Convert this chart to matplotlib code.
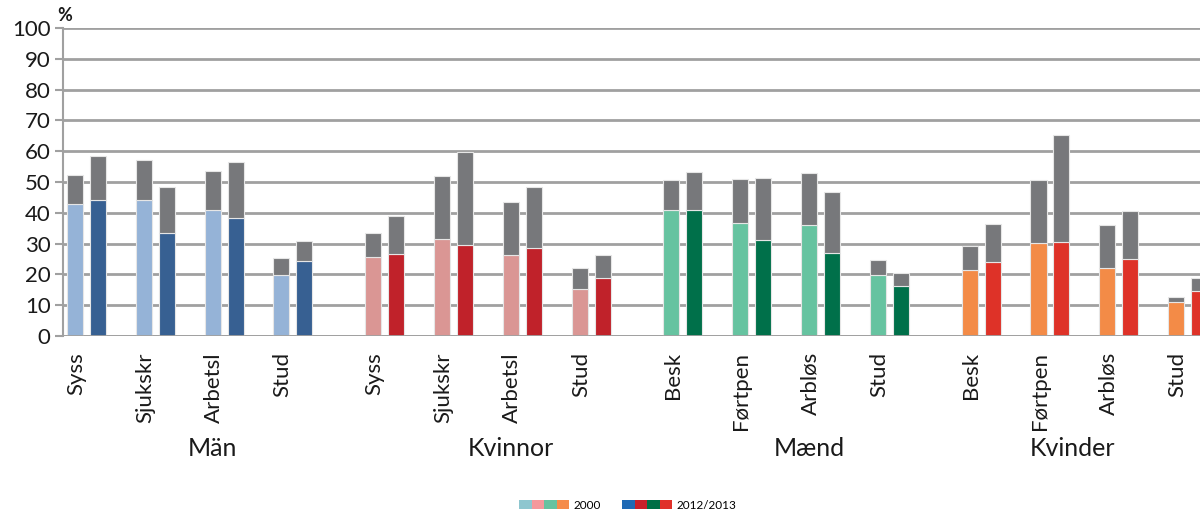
import matplotlib
matplotlib.use("Agg")
import matplotlib.pyplot as plt
from matplotlib.patches import Patch
from matplotlib.legend_handler import HandlerTuple
import numpy as np

plt.rcParams['font.family'] = ['Lato', 'DejaVu Sans']

groups = ["Män", "Kvinnor", "Mænd", "Kvinder"]
categories = [
    ["Syss", "Sjukskr", "Arbetsl", "Stud"],
    ["Syss", "Sjukskr", "Arbetsl", "Stud"],
    ["Besk", "Førtpen", "Arbløs", "Stud"],
    ["Besk", "Førtpen", "Arbløs", "Stud"],
]
# coloured (lower) part and total height, first year / second year
base_2000 = [
    [42.9, 44.1, 41.0, 19.7],
    [25.8, 31.5, 26.4, 15.4],
    [41.0, 36.6, 35.9, 19.9],
    [21.5, 30.2, 22.0, 11.1],
]
total_2000 = [
    [52.2, 57.1, 53.7, 25.4],
    [33.4, 52.0, 43.5, 22.1],
    [50.5, 51.0, 52.8, 24.6],
    [29.1, 50.5, 36.0, 12.7],
]
base_2012 = [
    [44.3, 33.5, 38.2, 24.5],
    [26.7, 29.7, 28.7, 18.8],
    [40.8, 31.1, 27.1, 16.3],
    [24.1, 30.6, 25.1, 14.5],
]
total_2012 = [
    [58.5, 48.3, 56.5, 30.8],
    [38.8, 59.8, 48.4, 26.4],
    [53.4, 51.3, 46.6, 20.6],
    [36.4, 65.2, 40.5, 18.7],
]
legend_labels = ["2000", "2012/2013"]

colors_2000 = ["#95B3D7", "#DA9694", "#66C3A0", "#F38B47"]
colors_2012 = ["#376092", "#C0222A", "#00704A", "#DE3228"]
legend_2000 = ["#8EC6CF", "#F4989C", "#66C2A0", "#F58C4B"]
legend_2012 = ["#1F6AB5", "#C9202A", "#006E45", "#E0312A"]
gray = "#77787B"

fig = plt.figure(figsize=(12, 5.11), dpi=100)
ax = fig.add_axes([63/1200, 175/511, 1 - 63/1200, 308/511])

bw = 0.70
edge = "#E6E6E6"
for g in range(len(groups)):
    for c in range(4):
        s = g * 13 + c * 3
        b0, t0 = base_2000[g][c], total_2000[g][c]
        b1, t1 = base_2012[g][c], total_2012[g][c]
        ax.bar(s, b0, bw, color=colors_2000[g], edgecolor=edge, linewidth=0.8, zorder=3)
        ax.bar(s, t0 - b0, bw, bottom=b0, color=gray, edgecolor=edge, linewidth=0.8, zorder=3)
        ax.bar(s + 1, b1, bw, color=colors_2012[g], edgecolor=edge, linewidth=0.8, zorder=3)
        ax.bar(s + 1, t1 - b1, bw, bottom=b1, color=gray, edgecolor=edge, linewidth=0.8, zorder=3)
        ax.text(s + 0.05, -5.2, categories[g][c], rotation=90, ha='center', va='top',
                fontsize=16, color='#1a1a1a')

group_pos = [6.0, 19.0, 32.0, 43.5]
for g, name in enumerate(groups):
    ax.text(group_pos[g], -36.6, name, ha='center', va='center', fontsize=18, color='#1a1a1a')

ax.set_xlim(-0.523, 49.04)
ax.set_ylim(0, 100)
ax.set_yticks(np.arange(0, 101, 10))
ax.tick_params(axis='y', labelsize=16, length=6, width=1.5, color='#A0A0A0', pad=3, labelcolor='#1a1a1a')
ax.tick_params(axis='x', bottom=False, labelbottom=False)
ax.grid(axis='y', color='#A0A0A0', linewidth=2, zorder=0)
for sp in ['top', 'right', 'bottom']:
    ax.spines[sp].set_visible(False)
ax.spines['left'].set_color('#A0A0A0')
ax.spines['left'].set_linewidth(1.5)
ax.axhline(0, color='#A0A0A0', linewidth=2, zorder=4)
ax.text(-0.46, 101.3, "%", fontsize=13, fontweight='bold', ha='center', va='bottom', color='#1a1a1a')

h1 = tuple(Patch(facecolor=c, edgecolor='none') for c in legend_2000)
h2 = tuple(Patch(facecolor=c, edgecolor='none') for c in legend_2012)
fig.legend([h1, h2], legend_labels, handler_map={tuple: HandlerTuple(ndivide=None, pad=0)},
           loc='center', bbox_to_anchor=(628/1200, 1 - 505/511), ncol=2, frameon=False,
           fontsize=8.5, handlelength=4.2, handleheight=0.8, columnspacing=1.8, handletextpad=0.4)

fig.savefig("out.png", dpi=100)
